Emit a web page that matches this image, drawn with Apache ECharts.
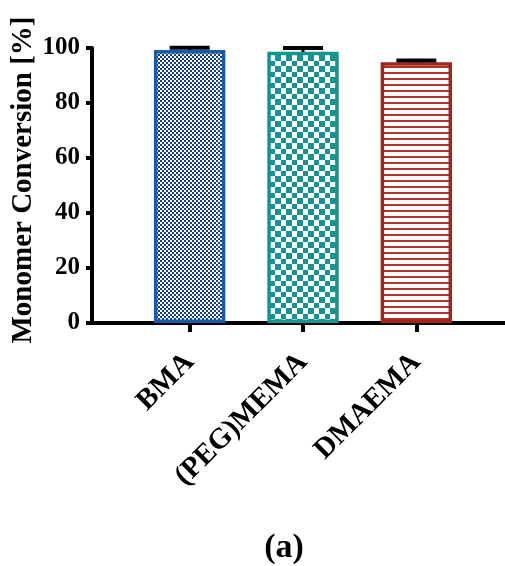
<!DOCTYPE html>
<html>
<head>
<meta charset="utf-8">
<script src="https://cdn.jsdelivr.net/npm/echarts@6/dist/echarts.min.js"></script>
<style>
html,body{margin:0;padding:0;background:#fff;}
#chart{width:505px;height:566px;}
</style>
</head>
<body>
<div id="chart"></div>
<script>
const categories = ['BMA', '(PEG)MEMA', 'DMAEMA'];
const conversion = [99.3, 98.6, 94.8];
const errors = [0.8, 1.4, 0.7];
const yMin = 0, yMax = 100, yInterval = 20;
const yTitle = 'Monomer Conversion [%]';
const panelLabel = '(a)';

const FONT = '"Liberation Serif", "Times New Roman", serif';

function makePattern(kind, color) {
  const c = document.createElement('canvas');
  const ctx = c.getContext('2d');
  if (kind === 'fine') {
    c.width = 4; c.height = 4;
    ctx.fillStyle = '#ffffff'; ctx.fillRect(0, 0, 4, 4);
    ctx.fillStyle = color;
    ctx.fillRect(0, 0, 2, 2); ctx.fillRect(2, 2, 2, 2);
  } else if (kind === 'check') {
    c.width = 11; c.height = 11;
    ctx.fillStyle = '#ffffff'; ctx.fillRect(0, 0, 11, 11);
    ctx.fillStyle = color;
    ctx.fillRect(0, 0, 6, 6); ctx.fillRect(6, 6, 5, 5);
  } else {
    c.width = 6; c.height = 6;
    ctx.fillStyle = '#ffffff'; ctx.fillRect(0, 0, 6, 6);
    ctx.fillStyle = color;
    ctx.fillRect(0, 0, 6, 2);
  }
  return { image: c, repeat: 'repeat' };
}

const barStyles = [
  { fill: makePattern('fine', '#173f8e'), border: '#1b5aa6' },
  { fill: makePattern('check', '#17938f'), border: '#14968f' },
  { fill: makePattern('stripe', '#b2332a'), border: '#a3241c' }
];

const chart = echarts.init(document.getElementById('chart'), null, { renderer: 'canvas' });

const option = {
  backgroundColor: '#ffffff',
  animation: false,
  grid: [
    { left: 92, right: 0, top: 48, bottom: 243 },
    { left: 133, right: 32, top: 48, bottom: 243 }
  ],
  xAxis: [
    {
      gridIndex: 0, type: 'value', min: 0, max: 1,
      axisLine: { show: true, lineStyle: { color: '#000', width: 4 } },
      axisTick: { show: false }, axisLabel: { show: false }, splitLine: { show: false }
    },
    {
      gridIndex: 1, type: 'category', data: categories,
      axisLine: { show: false },
      axisTick: { show: true, alignWithLabel: true, length: 9, lineStyle: { color: '#000', width: 4 } },
      axisLabel: {
        rotate: 45, margin: 35, color: '#000',
        fontFamily: FONT, fontWeight: 'bold', fontSize: 29
      },
      splitLine: { show: false }
    }
  ],
  yAxis: [
    {
      gridIndex: 0, type: 'value', min: yMin, max: yMax, interval: yInterval,
      axisLine: { show: true, lineStyle: { color: '#000', width: 4 } },
      axisTick: { show: true, inside: false, length: 6, lineStyle: { color: '#000', width: 4 } },
      axisLabel: { margin: 12, color: '#000', fontFamily: FONT, fontWeight: 'bold', fontSize: 25 },
      splitLine: { show: false }
    },
    {
      gridIndex: 1, type: 'value', min: yMin, max: yMax, interval: yInterval, show: false
    }
  ],
  series: [
    {
      type: 'bar', xAxisIndex: 1, yAxisIndex: 1, barWidth: '63%',
      data: conversion.map((v, i) => ({
        value: v,
        itemStyle: { color: barStyles[i].fill, borderColor: barStyles[i].border, borderWidth: 3.5 }
      })),
      z: 2
    },
    {
      type: 'custom', xAxisIndex: 1, yAxisIndex: 1, z: 5,
      data: conversion.map((v, i) => [i, v, errors[i]]),
      renderItem: function (params, api) {
        const x = api.value(0), v = api.value(1), e = api.value(2);
        const top = api.coord([x, v + e]);
        const base = api.coord([x, v]);
        const half = 20;
        return {
          type: 'group',
          children: [
            { type: 'line', shape: { x1: top[0], y1: base[1], x2: top[0], y2: top[1] },
              style: { stroke: '#000', lineWidth: 3 } },
            { type: 'line', shape: { x1: top[0] - half, y1: top[1], x2: top[0] + half, y2: top[1] },
              style: { stroke: '#000', lineWidth: 4 } }
          ]
        };
      }
    }
  ],
  graphic: [
    {
      type: 'text', x: 24, y: 180, rotation: Math.PI / 2,
      style: { text: yTitle, font: 'bold 29px ' + FONT, fill: '#000', align: 'center', verticalAlign: 'middle' }
    },
    {
      type: 'text', x: 284, y: 548,
      style: { text: panelLabel, font: 'bold 34px ' + FONT, fill: '#000', align: 'center', verticalAlign: 'middle' }
    }
  ]
};

chart.setOption(option);
</script>
</body>
</html>
